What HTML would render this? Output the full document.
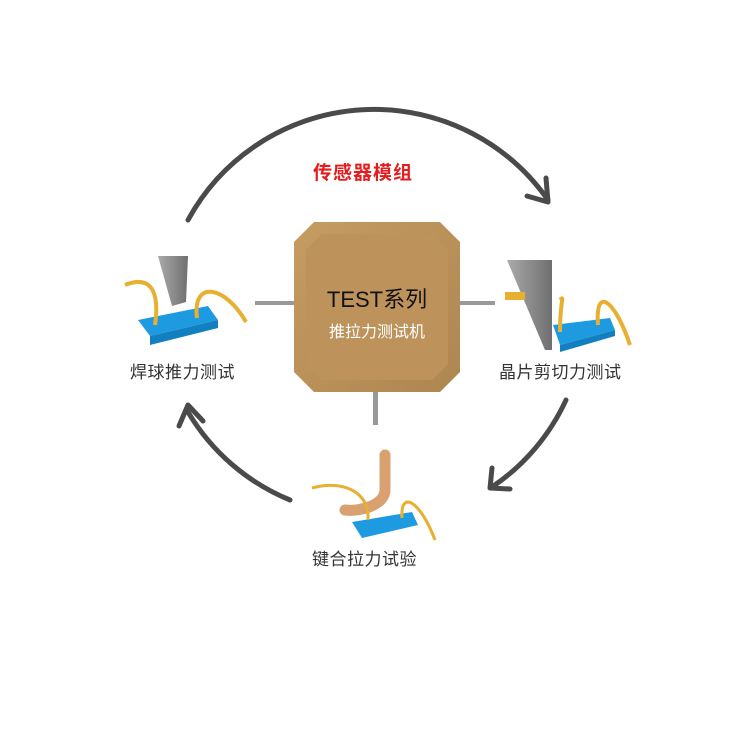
<!DOCTYPE html>
<html><head><meta charset="utf-8"><style>
body{margin:0;background:#fff;width:750px;height:750px;overflow:hidden;position:relative;font-family:"Liberation Sans","Noto Sans CJK SC",sans-serif}
.t{position:absolute;font-size:17px;color:#333;white-space:nowrap;letter-spacing:0.5px}
</style></head><body>
<svg width="750" height="750" style="position:absolute;left:0;top:0">
<defs>
<linearGradient id="bx" x1="0" y1="0" x2="1" y2="1"><stop offset="0" stop-color="#c59c62"/><stop offset="1" stop-color="#ad8650"/></linearGradient>
<linearGradient id="gr" x1="0" y1="0" x2="1" y2="0"><stop offset="0" stop-color="#aaa"/><stop offset="1" stop-color="#6f6f6f"/></linearGradient>
</defs>
<g fill="none" stroke="#4a4a4a" stroke-width="5" stroke-linecap="round" stroke-linejoin="round">
<path d="M188 220 A212 212 0 0 1 548 200"/>
<path d="M546 178 L548 202 L527 196"/>
<path d="M566 400 A212 212 0 0 1 492 487"/>
<path d="M492 468 L490 488 L510 489"/>
<path d="M290 500 A212 212 0 0 1 188 412"/>
<path d="M179 426 L188 405 L203 421"/>
</g>
<rect x="255" y="301" width="45" height="4" fill="#999"/>
<rect x="455" y="301" width="40" height="4" fill="#999"/>
<rect x="373" y="390" width="5" height="35" fill="#999"/>
<polygon points="314,222 440,222 460,242 460,372 440,392 314,392 294,372 294,242" fill="url(#bx)"/>
<polygon points="322,234 432,234 448,250 448,364 432,380 322,380 306,364 306,250" fill="#bd935b"/>
<text x="377" y="307" font-size="22" fill="#111" text-anchor="middle" font-family="Liberation Sans,Noto Sans CJK SC,sans-serif">TEST系列</text>
<text x="377" y="337" font-size="16" fill="#fff" text-anchor="middle" font-family="Liberation Sans,Noto Sans CJK SC,sans-serif">推拉力测试机</text>
<!-- left icon -->
<polygon points="158,256 188,256 186,302 172,306" fill="url(#gr)"/>
<polygon points="138,320 208,306 218,320 150,336" fill="#1e9be0"/>
<polygon points="150,336 218,320 218,328 150,345" fill="#127fc0"/>
<path d="M125 285 C150 275 160 290 155 325" stroke="#e8b030" stroke-width="4" fill="none"/>
<path d="M197 318 C192 280 225 285 246 322" stroke="#e8b030" stroke-width="4" fill="none"/>
<!-- right icon -->
<polygon points="507,260 552,260 552,350 545,350" fill="url(#gr)"/>
<rect x="505" y="292" width="20" height="8" fill="#e8b030"/>
<polygon points="553,325 610,318 615,330 560,345" fill="#1e9be0"/>
<polygon points="560,345 615,330 615,336 560,352" fill="#127fc0"/>
<path d="M560 332 C560 300 565 295 560 300" stroke="#e8b030" stroke-width="4" fill="none"/>
<path d="M598 325 C595 285 615 300 630 345" stroke="#e8b030" stroke-width="4" fill="none"/>
<!-- bottom icon -->
<path d="M385 455 L385 490 C385 505 360 512 345 510" stroke="#d9a070" stroke-width="11" fill="none" stroke-linecap="round"/>
<polygon points="352,522 412,512 418,525 362,538" fill="#1e9be0"/>
<path d="M312 488 C340 480 370 490 368 520" stroke="#e8b030" stroke-width="3" fill="none"/>
<path d="M402 518 C400 490 420 500 435 540" stroke="#e8b030" stroke-width="3" fill="none"/>
</svg>
<div style="position:absolute;left:313px;top:158px;font-size:19px;color:#e41e1e;font-weight:bold;letter-spacing:1px">传感器模组</div>
<div class="t" style="left:130px;top:358px">焊球推力测试</div>
<div class="t" style="left:499px;top:358px">晶片剪切力测试</div>
<div class="t" style="left:312px;top:545px">键合拉力试验</div>
</body></html>
